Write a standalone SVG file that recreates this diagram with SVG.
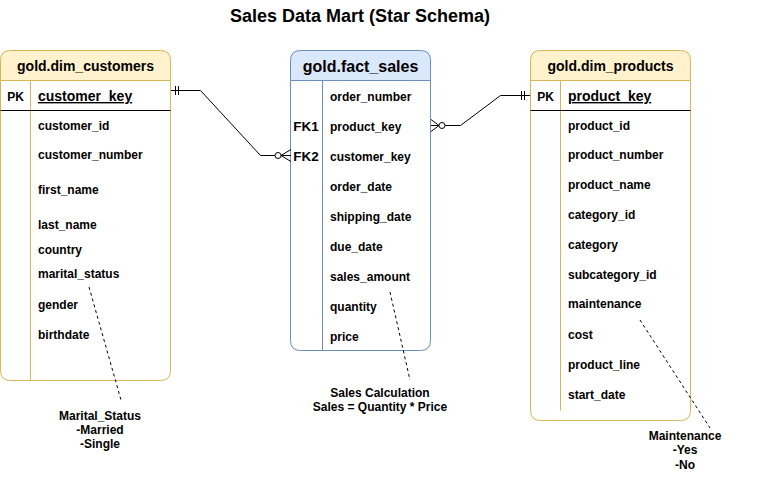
<svg xmlns="http://www.w3.org/2000/svg" width="761" height="480" viewBox="0 0 761 480">
<style>
text{font-family:"Liberation Sans",Arial,sans-serif;font-weight:bold;fill:#000}
.h{font-size:14px;text-anchor:middle}
.r{font-size:12px}
.k{font-size:12px;text-anchor:middle}
.fk{font-size:13.5px;text-anchor:middle}
.t{font-size:18px;text-anchor:middle}
.a{font-size:12px;text-anchor:middle}
.yel{fill:#fff2cc;stroke:#d6b656}
.blu{fill:#dae8fc;stroke:#6c8ebf}
.ys{stroke:#d6b656;fill:none}
.bs{stroke:#6c8ebf;fill:none}
.ln{stroke:#000;fill:none;stroke-width:1}
.ds{stroke:#000;fill:none;stroke-dasharray:3 3}
</style>
<text class="t" x="360" y="22">Sales Data Mart (Star Schema)</text>

<g id="dim_customers">
<path class="yel" d="M0.5,80.5 V60.5 Q0.5,50.5 10.5,50.5 H160.5 Q170.5,50.5 170.5,60.5 V80.5 Z"/>
<path d="M0.5,80.5 H170.5 V370.5 Q170.5,380.5 160.5,380.5 H10.5 Q0.5,380.5 0.5,370.5 Z" fill="#fff" stroke="#d6b656"/>
<line class="ys" x1="30.5" y1="80.5" x2="30.5" y2="380.5"/>
<line class="ln" x1="0.5" y1="110.5" x2="170.5" y2="110.5"/>
<text class="h" x="85.5" y="71">gold.dim_customers</text>
<text class="k" x="15.5" y="101">PK</text>
<text class="r" x="38" y="101" style="font-size:14px;text-decoration:underline">customer_key</text>
<text class="r" x="38" y="130">customer_id</text>
<text class="r" x="38" y="159">customer_number</text>
<text class="r" x="38" y="194">first_name</text>
<text class="r" x="38" y="229">last_name</text>
<text class="r" x="38" y="254">country</text>
<text class="r" x="38" y="278">marital_status</text>
<text class="r" x="38" y="309">gender</text>
<text class="r" x="38" y="339">birthdate</text>
</g>

<g id="fact_sales">
<path class="blu" d="M290.5,80.5 V60.5 Q290.5,50.5 300.5,50.5 H420.5 Q430.5,50.5 430.5,60.5 V80.5 Z"/>
<path d="M290.5,80.5 H430.5 V340.5 Q430.5,350.5 420.5,350.5 H300.5 Q290.5,350.5 290.5,340.5 Z" fill="#fff" stroke="#6c8ebf"/>
<line class="bs" x1="322.5" y1="80.5" x2="322.5" y2="350.5"/>
<text class="h" x="360.5" y="72" style="font-size:16px">gold.fact_sales</text>
<text class="r" x="330" y="101">order_number</text>
<text class="fk" x="306" y="131">FK1</text>
<text class="r" x="330" y="131">product_key</text>
<text class="fk" x="306" y="161">FK2</text>
<text class="r" x="330" y="161">customer_key</text>
<text class="r" x="330" y="191">order_date</text>
<text class="r" x="330" y="221">shipping_date</text>
<text class="r" x="330" y="251">due_date</text>
<text class="r" x="330" y="281">sales_amount</text>
<text class="r" x="330" y="311">quantity</text>
<text class="r" x="330" y="341">price</text>
</g>

<g id="dim_products">
<path class="yel" d="M530.5,80.5 V60.5 Q530.5,50.5 540.5,50.5 H680.5 Q690.5,50.5 690.5,60.5 V80.5 Z"/>
<path d="M530.5,80.5 H690.5 V410.5 Q690.5,420.5 680.5,420.5 H540.5 Q530.5,420.5 530.5,410.5 Z" fill="#fff" stroke="#d6b656"/>
<line class="ys" x1="560.5" y1="80.5" x2="560.5" y2="410.5"/>
<line class="ln" x1="530.5" y1="110.5" x2="690.5" y2="110.5"/>
<text class="h" x="610.5" y="71">gold.dim_products</text>
<text class="k" x="545.5" y="101">PK</text>
<text class="r" x="568" y="101" style="font-size:14px;text-decoration:underline">product_key</text>
<text class="r" x="568" y="130">product_id</text>
<text class="r" x="568" y="159">product_number</text>
<text class="r" x="568" y="189">product_name</text>
<text class="r" x="568" y="219">category_id</text>
<text class="r" x="568" y="249">category</text>
<text class="r" x="568" y="279">subcategory_id</text>
<text class="r" x="568" y="308">maintenance</text>
<text class="r" x="568" y="339">cost</text>
<text class="r" x="568" y="369">product_line</text>
<text class="r" x="568" y="399">start_date</text>
</g>

<g id="connectors">
<path class="ln" d="M171,90.5 H200.5 L260.5,155.5 H275"/>
<line class="ln" x1="175.5" y1="86" x2="175.5" y2="95"/>
<line class="ln" x1="178.5" y1="86" x2="178.5" y2="95"/>
<circle cx="278" cy="155.5" r="3" fill="#fff" stroke="#000"/>
<path class="ln" d="M291,149.5 L281,155.5 L291,161.5 M281,155.5 H291"/>

<path class="ln" d="M445,125.5 H460.5 L500.5,95.5 H530"/>
<line class="ln" x1="521.5" y1="91" x2="521.5" y2="100"/>
<line class="ln" x1="524.5" y1="91" x2="524.5" y2="100"/>
<circle cx="442" cy="125.5" r="3" fill="#fff" stroke="#000"/>
<path class="ln" d="M431,119.5 L439,125.5 L431,131.5 M431,125.5 H439"/>

<line class="ds" x1="89" y1="287" x2="121" y2="400"/>
<line class="ds" x1="390" y1="292" x2="410" y2="380"/>
<line class="ds" x1="640" y1="320" x2="710" y2="428"/>
</g>

<g id="notes">
<text class="a" x="100" y="420">Marital_Status</text>
<text class="a" x="100" y="434">-Married</text>
<text class="a" x="100" y="448">-Single</text>
<text class="a" x="380" y="397">Sales Calculation</text>
<text class="a" x="380" y="411">Sales = Quantity * Price</text>
<text class="a" x="685" y="440">Maintenance</text>
<text class="a" x="685" y="454">-Yes</text>
<text class="a" x="685" y="469">-No</text>
</g>
</svg>
